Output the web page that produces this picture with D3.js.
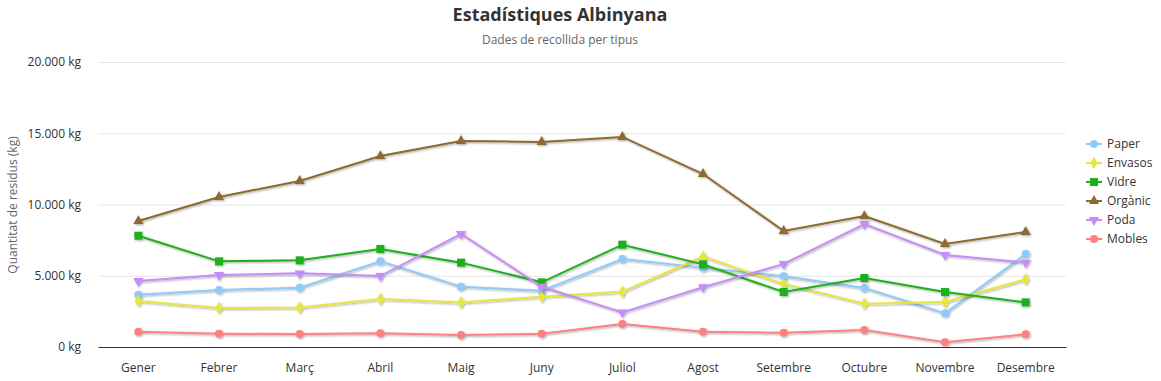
<!DOCTYPE html>
<html><head><meta charset="utf-8">
<script src="https://cdn.jsdelivr.net/npm/d3@7/dist/d3.min.js"></script>
<style>
body{margin:0;background:#fff;}
text{font-family:"Open Sans","Segoe UI",sans-serif;}
</style></head><body>
<svg id="c" width="1161" height="381"></svg>
<script>
const months = ["Gener","Febrer","Març","Abril","Maig","Juny","Juliol","Agost","Setembre","Octubre","Novembre","Desembre"];
const seriesNames = ["Paper","Envasos","Vidre","Orgànic","Poda","Mobles"];
const paper   = [3670,4000,4160,6010,4230,3950,6170,5570,4960,4140,2360,6530];
const envasos = [3230,2740,2780,3370,3130,3530,3880,6340,4420,3040,3160,4750];
const vidre   = [7810,6010,6080,6880,5920,4540,7180,5800,3860,4840,3860,3130];
const organic = [8840,10530,11650,13400,14460,14390,14740,12140,8140,9190,7230,8070];
const poda    = [4630,5050,5170,4980,7930,4230,2430,4190,5830,8630,6460,5920];
const mobles  = [1070,930,910,960,840,930,1610,1070,1000,1190,330,890];
const yTicks  = [0,5000,10000,15000,20000];
const colors  = ["#90caf9","#e6e640","#1db01d","#8c6a31","#c58cfa","#ff8080"];
const symbols = ["circle","diamond","square","triangle","triangle-down","circle"];
const allData = [paper,envasos,vidre,organic,poda,mobles];

const svg = d3.select("#c");
const L=98,R=1066,T=62,B=347;
const x = d3.scaleBand().domain(months).range([L,R]);
const y = d3.scaleLinear().domain([0,20000]).range([B,T]);
const fmt = v => (v===0?"0":d3.format(",")(v).replace(/,/g,"."))+" kg";

const defs = svg.append("defs");
const f = defs.append("filter").attr("id","sh").attr("x","-10%").attr("y","-10%").attr("width","120%").attr("height","130%");
f.append("feDropShadow").attr("dx",1).attr("dy",1).attr("stdDeviation",1.2).attr("flood-color","#000").attr("flood-opacity",0.35);

// title
svg.append("text").attr("x",560).attr("y",21).attr("text-anchor","middle").attr("font-size",18).attr("font-weight","bold").attr("fill","#333").text("Estadístiques Albinyana");
svg.append("text").attr("x",560).attr("y",44).attr("text-anchor","middle").attr("font-size",12).attr("fill","#666").text("Dades de recollida per tipus");

// grid + y axis
const ya = svg.append("g").attr("transform",`translate(${L},0)`)
  .call(d3.axisLeft(y).tickValues(yTicks).tickFormat(fmt).tickSize(-(R-L)).tickPadding(17));
ya.select(".domain").remove();
ya.selectAll(".tick line").attr("stroke","#e6e6e6");
ya.selectAll(".tick text").attr("font-size",12).attr("fill","#333");
svg.append("text").attr("transform","translate(17,205) rotate(-90)").attr("text-anchor","middle").attr("font-size",12).attr("fill","#666").text("Quantitat de residus (kg)");

// x axis
const xa = svg.append("g").attr("transform",`translate(0,${B})`).call(d3.axisBottom(x).tickSize(0).tickPadding(16));
xa.select(".domain").attr("stroke","#333").attr("stroke-width",1.2);
xa.selectAll(".tick text").attr("font-size",12).attr("fill","#333");

const cx = m => x(m)+x.bandwidth()/2;
const line = d3.line().x((d,i)=>cx(months[i])).y(d=>y(d));
const symSize = {circle:50,diamond:45,square:64,triangle:45,"triangle-down":45};
const symType = {circle:d3.symbolCircle,diamond:d3.symbolDiamond,square:d3.symbolSquare,triangle:d3.symbolTriangle,"triangle-down":d3.symbolTriangle};

allData.forEach((data,si)=>{
  const g = svg.append("g").attr("filter","url(#sh)");
  g.append("path").attr("d",line(data)).attr("fill","none").attr("stroke",colors[si]).attr("stroke-width",2);
  const sym = d3.symbol().type(symType[symbols[si]]).size(symSize[symbols[si]]);
  g.selectAll("path.m").data(data).join("path").attr("class","m")
    .attr("d",sym)
    .attr("transform",(d,i)=>`translate(${cx(months[i])},${y(d)})${symbols[si]==="triangle-down"?" rotate(180)":""}`)
    .attr("fill",colors[si]);
});

// legend
const lg = svg.append("g");
seriesNames.forEach((n,i)=>{
  const yy = 144 + i*19;
  lg.append("line").attr("x1",1086).attr("x2",1102).attr("y1",yy).attr("y2",yy).attr("stroke",colors[i]).attr("stroke-width",2);
  const sym = d3.symbol().type(symType[symbols[i]]).size(symSize[symbols[i]]);
  lg.append("path").attr("d",sym).attr("transform",`translate(1094,${yy})${symbols[i]==="triangle-down"?" rotate(180)":""}`).attr("fill",colors[i]);
  lg.append("text").attr("x",1107).attr("y",yy+4).attr("font-size",12).attr("fill","#333").text(n);
});
</script></body></html>
